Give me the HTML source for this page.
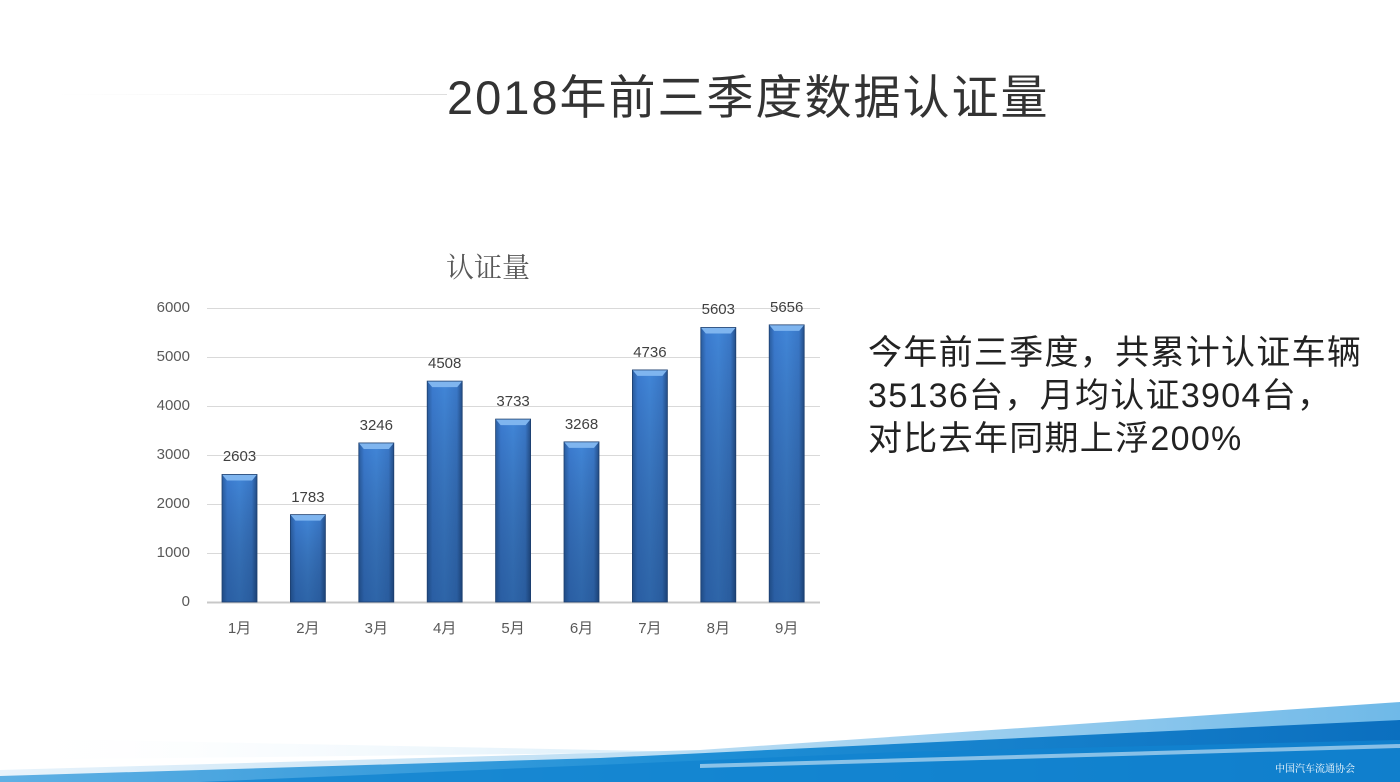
<!DOCTYPE html>
<html><head><meta charset="utf-8"><style>
html,body{margin:0;padding:0;background:#fff;}
body{width:1400px;height:782px;position:relative;overflow:hidden;font-family:"Liberation Sans","Noto Sans CJK SC",sans-serif;}
.t{position:absolute;white-space:nowrap;}
</style></head><body>
<svg width="1400" height="782" style="position:absolute;left:0;top:0">
<defs>
<linearGradient id="bar" x1="0" x2="1" y1="0" y2="0">
<stop offset="0" stop-color="#2a5da0"/><stop offset="0.15" stop-color="#3b7bd0"/><stop offset="0.5" stop-color="#4186d8"/><stop offset="0.85" stop-color="#3a78c8"/><stop offset="1" stop-color="#244f8a"/></linearGradient>
<linearGradient id="barv" x1="0" x2="0" y1="0" y2="1">
<stop offset="0" stop-color="#000" stop-opacity="0"/><stop offset="1" stop-color="#0a2850" stop-opacity="0.35"/></linearGradient>
<linearGradient id="w1" x1="0" x2="1"><stop offset="0" stop-color="#e8f3fb"/><stop offset="0.5" stop-color="#b8dcf3"/><stop offset="1" stop-color="#6fb9e8"/></linearGradient>
<linearGradient id="w2" x1="0" x2="1"><stop offset="0" stop-color="#5fb0e4"/><stop offset="0.5" stop-color="#1e8fd6"/><stop offset="1" stop-color="#0b6fbf"/></linearGradient>
<linearGradient id="w3" x1="0" x2="1"><stop offset="0" stop-color="#ffffff" stop-opacity="0"/><stop offset="1" stop-color="#d5ebf8"/></linearGradient>
<linearGradient id="ln" x1="0" x2="1"><stop offset="0" stop-color="#eee" stop-opacity="0"/><stop offset="1" stop-color="#ddd"/></linearGradient>
</defs>
<rect x="55" y="94" width="392" height="1" fill="url(#ln)"/>
<g stroke="#d9d9d9" stroke-width="1">
<line x1="207" x2="820" y1="308.5" y2="308.5"/><line x1="207" x2="820" y1="357.5" y2="357.5"/>
<line x1="207" x2="820" y1="406.5" y2="406.5"/><line x1="207" x2="820" y1="455.5" y2="455.5"/>
<line x1="207" x2="820" y1="504.5" y2="504.5"/><line x1="207" x2="820" y1="553.5" y2="553.5"/>
</g>
<line x1="207" x2="820" y1="602.5" y2="602.5" stroke="#c8c8c8" stroke-width="2"/>
<g id="bars"></g>
<polygon points="0,738 700,752 0,760" fill="url(#w3)"/>
<polygon points="0,782 0,770 700,750 1400,702 1400,782" fill="url(#w1)"/>
<polygon points="0,782 0,776 600,758 1400,720 1400,782" fill="url(#w2)"/>
<polygon points="200,782 900,752 1400,740 1400,782" fill="#1283cf" opacity="0.8"/>
<polygon points="700,764 1400,744 1400,748 700,768" fill="#fff" opacity="0.5"/>
<text x="1275" y="772" font-size="10" fill="#fff" font-family="Liberation Serif,Noto Serif CJK SC,serif">中国汽车流通协会</text>
</svg>
<div class="t" style="left:447px;top:59px;font-size:47px;letter-spacing:2px;color:#333">2018年前三季度数据认证量</div>
<div class="t" style="left:446px;top:246px;font-size:28px;color:#595959;font-family:'Liberation Serif','Noto Serif CJK SC',serif">认证量</div>
<div class="t" style="left:868px;top:332px;font-size:34px;line-height:43px;letter-spacing:1.3px;color:#222">今年前三季度，共累计认证车辆<br>35136台，月均认证3904台，<br>对比去年同期上浮200%</div>
<div id="lab"></div>
<script>
var v=[2603,1783,3246,4508,3733,3268,4736,5603,5656];
var s='',l='';
for(var i=0;i<9;i++){var c=239.5+i*68.4,h=v[i]*0.049,y=602-h,x=c-17.5;
s+='<rect x="'+x+'" y="'+y+'" width="35" height="'+h+'" fill="url(#bar)"/>'+
'<rect x="'+x+'" y="'+y+'" width="35" height="'+h+'" fill="url(#barv)"/>'+
'<polygon points="'+x+','+y+' '+(x+35)+','+y+' '+(x+30)+','+(y+6)+' '+(x+5)+','+(y+6)+'" fill="#7fb5ef"/>'+
'<rect x="'+x+'" y="'+y+'" width="35" height="'+h+'" fill="none" stroke="#1d3f6e" stroke-width="0.8"/>';
l+='<div class="t" style="left:'+(c-30)+'px;width:60px;text-align:center;top:'+(y-26)+'px;font-size:15px;color:#404040">'+v[i]+'</div>';
l+='<div class="t" style="left:'+(c-30)+'px;width:60px;text-align:center;top:617px;font-size:15px;color:#595959">'+(i+1)+'月</div>';}
var yl=[0,1000,2000,3000,4000,5000,6000];
for(var j=0;j<7;j++)l+='<div class="t" style="left:140px;width:50px;text-align:right;top:'+(593-j*49)+'px;font-size:15px;color:#595959">'+yl[j]+'</div>';
document.getElementById('bars').innerHTML=s;
document.getElementById('lab').innerHTML=l;
</script>
</body></html>
